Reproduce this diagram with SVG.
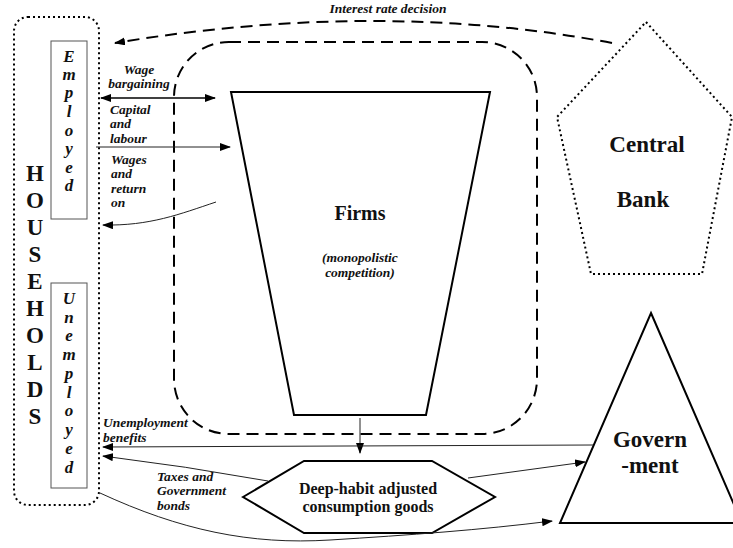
<svg xmlns="http://www.w3.org/2000/svg" width="733" height="548" viewBox="0 0 733 548">
<defs>
<marker id="ah" markerWidth="11" markerHeight="9" refX="10" refY="4" orient="auto-start-reverse" markerUnits="userSpaceOnUse">
<path d="M0,0 L11,4 L0,8 Z" fill="#000"/>
</marker>
</defs>
<style>
text{font-family:'Liberation Serif','DejaVu Serif','Times New Roman',serif}
.big{font-weight:bold;fill:#111}
.lbl{font-weight:bold;font-style:italic;font-size:13.5px;fill:#111}
.ltr{font-weight:bold;font-style:italic;font-size:17px;fill:#111;text-anchor:middle}
.conn{fill:none;stroke:#222;stroke-width:1}
.dotted{fill:#fff;stroke:#000;stroke-width:2;stroke-dasharray:2 3}
.solid{fill:#fff;stroke:#000;stroke-width:2}
</style>
<rect width="733" height="548" fill="#fff"/>

<g id="firms-boundary">
<rect x="174" y="42" width="363" height="392" rx="55" ry="55" fill="none" stroke="#000" stroke-width="2" stroke-dasharray="12 7"/>
</g>

<g id="households">
<rect x="14" y="17" width="85" height="488" rx="14" ry="14" class="dotted" fill="none"/>
<text class="big" font-size="23" text-anchor="middle">
<tspan x="35" y="181">H</tspan><tspan x="35" y="208">O</tspan><tspan x="35" y="235">U</tspan><tspan x="35" y="262">S</tspan><tspan x="35" y="289">E</tspan><tspan x="35" y="316">H</tspan><tspan x="35" y="343">O</tspan><tspan x="35" y="370">L</tspan><tspan x="35" y="397">D</tspan><tspan x="35" y="424">S</tspan>
</text>
</g>

<g id="employed">
<rect x="51" y="41" width="36" height="178" fill="#fff" stroke="#555" stroke-width="1"/>
<text class="ltr">
<tspan x="69" y="62">E</tspan><tspan x="69" y="80">m</tspan><tspan x="69" y="98">p</tspan><tspan x="69" y="117">l</tspan><tspan x="69" y="136">o</tspan><tspan x="69" y="154">y</tspan><tspan x="69" y="173">e</tspan><tspan x="69" y="191">d</tspan>
</text>
</g>

<g id="unemployed">
<rect x="51" y="283" width="36" height="205" fill="#fff" stroke="#555" stroke-width="1"/>
<text class="ltr">
<tspan x="69" y="304">U</tspan><tspan x="69" y="323">n</tspan><tspan x="69" y="341">e</tspan><tspan x="69" y="360">m</tspan><tspan x="69" y="379">p</tspan><tspan x="69" y="398">l</tspan><tspan x="69" y="416">o</tspan><tspan x="69" y="435">y</tspan><tspan x="69" y="454">e</tspan><tspan x="69" y="473">d</tspan>
</text>
</g>

<g id="firms">
<polygon points="231,92 490,92 426,415 294,415" class="solid"/>
<text class="big" font-size="20" x="360" y="220" text-anchor="middle">Firms</text>
<text class="lbl" x="360" y="262" text-anchor="middle">(monopolistic</text>
<text class="lbl" x="360" y="277" text-anchor="middle">competition)</text>
</g>

<g id="central-bank">
<polygon points="646,22 732,117 702,274 591,274 557,117" class="dotted"/>
<text class="big" font-size="23" x="647" y="152" text-anchor="middle">Central</text>
<text class="big" font-size="23" x="643" y="207" text-anchor="middle">Bank</text>
</g>

<g id="government">
<polygon points="651,313 742,523 560,523" class="solid"/>
<text class="big" font-size="23" x="650" y="447" text-anchor="middle">Govern</text>
<text class="big" font-size="23" x="650" y="473" text-anchor="middle">-ment</text>
</g>

<g id="consumption-goods">
<polygon points="243,497 304,461 432,461 495,497 432,533 304,533" class="solid"/>
<text class="big" font-size="16" x="368" y="494" text-anchor="middle">Deep-habit adjusted</text>
<text class="big" font-size="16" x="368" y="512" text-anchor="middle">consumption goods</text>
</g>

<g id="connectors">
<path d="M612,43 Q380,-1 115,43" fill="none" stroke="#000" stroke-width="2" stroke-dasharray="12 7" marker-end="url(#ah)"/>
<line x1="101" y1="98" x2="215" y2="98" stroke="#000" stroke-width="1.5" marker-start="url(#ah)" marker-end="url(#ah)"/>
<line x1="96" y1="147" x2="230" y2="147" class="conn" marker-end="url(#ah)"/>
<path d="M216,202 C180,214 150,226 103,225" class="conn" marker-end="url(#ah)"/>
<line x1="360" y1="418" x2="360" y2="453" class="conn" marker-end="url(#ah)"/>
<path d="M593,445 L103,447" class="conn" marker-end="url(#ah)"/>
<path d="M268,481 Q185,466 103,456" class="conn" marker-end="url(#ah)"/>
<path d="M468,478 L585,462" class="conn" marker-end="url(#ah)"/>
<path d="M100,493 C180,530 250,545 330,540 S480,530 552,521" class="conn" marker-end="url(#ah)"/>
</g>

<g id="labels">
<text class="lbl" x="388" y="13" text-anchor="middle">Interest rate decision</text>
<text class="lbl" x="139" y="74" text-anchor="middle">Wage</text>
<text class="lbl" x="139" y="88" text-anchor="middle">bargaining</text>
<text class="lbl" x="110" y="114">Capital</text>
<text class="lbl" x="110" y="128">and</text>
<text class="lbl" x="110" y="143">labour</text>
<text class="lbl" x="111" y="164">Wages</text>
<text class="lbl" x="111" y="178">and</text>
<text class="lbl" x="111" y="193">return</text>
<text class="lbl" x="111" y="207">on</text>
<text class="lbl" x="103" y="427">Unemployment</text>
<text class="lbl" x="103" y="442">benefits</text>
<text class="lbl" x="157" y="481">Taxes and</text>
<text class="lbl" x="157" y="495">Government</text>
<text class="lbl" x="157" y="510">bonds</text>
</g>
</svg>
